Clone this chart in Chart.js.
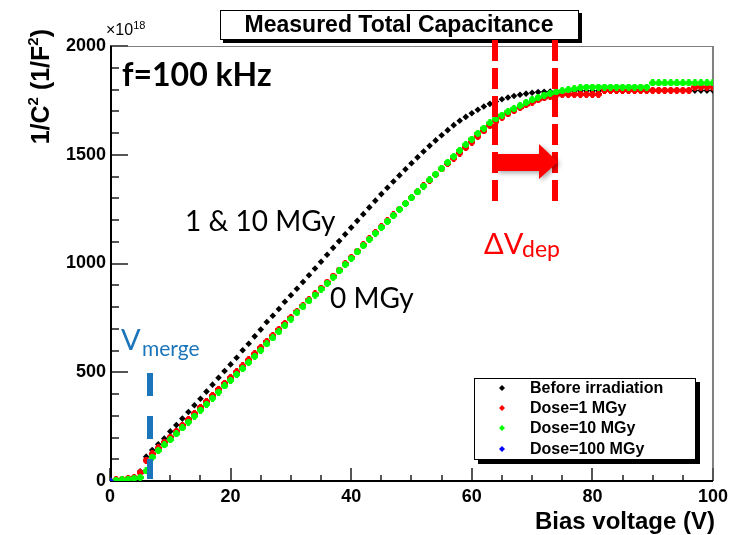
<!DOCTYPE html>
<html>
<head>
<meta charset="utf-8">
<script src="https://cdn.jsdelivr.net/npm/chart.js@4.4.1/dist/chart.umd.min.js"></script>
<style>
  html, body { margin: 0; padding: 0; background: #fff; }
  #wrap { width: 733px; height: 535px; }
</style>
</head>
<body>
<div id="wrap"><canvas id="capChart" width="733" height="535"></canvas></div>
<script>
// bias voltage (V)
const voltage = [0,1,2,3,4,5,6,7,8,9,10,11,12,13,14,15,16,17,18,19,20,21,22,23,24,25,26,27,28,29,30,
  31,32,33,34,35,36,37,38,39,40,41,42,43,44,45,46,47,48,49,50,51,52,53,54,55,56,57,58,59,60,
  61,62,63,64,65,66,67,68,69,70,71,72,73,74,75,76,77,78,79,80,81,82,83,84,85,86,87,88,89,90,
  91,92,93,94,95,96,97,98,99,100];

// 1/C^2 in units of 1e18 F^-2
const beforeIrr = [0,5,8,14,18,45,112,142,169,195,228,257,287,317,348,378,411,443,475,506,536,
  567,601,631,665,696,731,760,791,824,854,884,915,946,977,1008,1040,1072,1103,1134,1165,
  1196,1227,1258,1289,1319,1348,1377,1405,1433,1461,1488,1515,1541,1566,1590,1613,1636,1656,1674,1691,
  1707,1722,1734,1745,1755,1763,1770,1776,1781,1785,1788,1790,1791,1792,1792,1793,1793,1794,1794,1794,
  1794,1795,1795,1795,1795,1795,1795,1795,1795,1795,1795,1795,1795,1795,1795,1795,1795,1795,1795,1795];

const dose1 = [0,5,8,12,16,38,95,125,152,178,202,229,256,283,310,338,365,393,421,449,475,
  502,529,557,585,613,641,668,696,724,751,779,806,833,860,887,914,942,970,999,1028,
  1057,1086,1114,1142,1169,1196,1223,1250,1277,1303,1330,1357,1383,1409,1435,1460,1484,1508,1533,1558,
  1584,1610,1634,1654,1672,1688,1703,1717,1730,1742,1753,1762,1770,1775,1778,1778,1778,1778,1778,1778,
  1778,1796,1796,1796,1796,1796,1796,1796,1796,1796,1796,1796,1796,1796,1796,1796,1811,1811,1811,1811];

const dose10 = [0,3,6,9,12,16,46,110,140,166,190,217,244,271,298,326,353,381,409,437,463,
  490,517,545,573,601,630,658,686,714,744,774,801,828,855,882,909,937,966,995,1024,
  1053,1082,1111,1139,1166,1193,1220,1248,1275,1302,1329,1356,1384,1411,1438,1465,1492,1520,1546,1572,
  1598,1622,1646,1665,1682,1698,1712,1726,1740,1753,1764,1774,1782,1789,1794,1799,1803,1808,1811,1811,
  1811,1811,1811,1811,1811,1811,1811,1811,1811,1830,1830,1830,1830,1830,1830,1830,1830,1830,1830,1830];

const dose100V = [0];
const dose100 = [0];

const seriesNames = ['Before irradiation', 'Dose=1 MGy', 'Dose=10 MGy', 'Dose=100 MGy'];
const seriesColors = ['#000000', '#ff0000', '#00ff00', '#0000ff'];

const xTicks = [0, 20, 40, 60, 80, 100];
const yTicks = [0, 500, 1000, 1500, 2000];

function toPoints(xs, ys) {
    return xs.map(function (v, i) { return { x: v, y: ys[i] }; });
}

// ROOT-like "full cross" marker
function crossMarker(color) {
    const c = document.createElement('canvas');
    c.width = 7; c.height = 7;
    const g = c.getContext('2d');
    g.fillStyle = color;
    g.fillRect(2, 0, 3, 7);
    g.fillRect(0, 2, 7, 3);
    g.fillRect(1, 1, 5, 5);
    return c;
}

const LABEL_FONT = '"Liberation Sans", Arial, sans-serif';
const TEXT_FONT = 'Lato, "Open Sans", sans-serif';

// ticks, frame, texts and markup drawn over the chart area
const decorations = {
    id: 'decorations',
    beforeDatasetsDraw(chart) {
        const ctx = chart.ctx;
        const a = chart.chartArea;
        const xs = chart.scales.x, ys = chart.scales.y;
        ctx.save();
        // frame
        ctx.strokeStyle = '#808080';
        ctx.lineWidth = 1;
        ctx.beginPath();
        ctx.moveTo(a.left, a.top + 0.5); ctx.lineTo(a.right, a.top + 0.5);
        ctx.stroke();
        ctx.lineWidth = 2;
        ctx.beginPath();
        ctx.moveTo(a.right, a.top); ctx.lineTo(a.right, a.bottom);
        ctx.stroke();
        // tick marks pointing inward
        ctx.strokeStyle = '#555555';
        ctx.lineWidth = 2;
        for (let v = 0; v <= 100; v += 5) {
            const px = Math.round(xs.getPixelForValue(v));
            const len = v % 20 === 0 ? 13 : 6;
            ctx.beginPath();
            ctx.moveTo(px, a.bottom); ctx.lineTo(px, a.bottom - len);
            ctx.stroke();
        }
        for (let v = 0; v <= 2000; v += 100) {
            const py = Math.round(ys.getPixelForValue(v));
            const len = v % 500 === 0 ? 18 : 9;
            ctx.beginPath();
            ctx.moveTo(a.left, py); ctx.lineTo(a.left + len, py);
            ctx.stroke();
        }
        // axes
        ctx.strokeStyle = '#000000';
        ctx.lineWidth = 2;
        ctx.beginPath();
        ctx.moveTo(a.left + 1, a.top); ctx.lineTo(a.left + 1, a.bottom);
        ctx.lineTo(a.right, a.bottom);
        ctx.stroke();
        ctx.restore();
    },
    afterDatasetsDraw(chart) {
        const ctx = chart.ctx;
        ctx.save();

        // title box
        ctx.fillStyle = '#000';
        ctx.fillRect(223, 13, 359, 30);
        ctx.fillStyle = '#fff';
        ctx.fillRect(220, 10, 359, 30);
        ctx.strokeStyle = '#000';
        ctx.lineWidth = 1;
        ctx.strokeRect(220.5, 10.5, 358, 29);
        ctx.fillStyle = '#000';
        ctx.font = 'bold 23px ' + LABEL_FONT;
        ctx.textAlign = 'center';
        ctx.textBaseline = 'alphabetic';
        ctx.fillText('Measured Total Capacitance', 399, 32);

        // exponent
        ctx.textAlign = 'left';
        ctx.font = '16px ' + LABEL_FONT;
        ctx.fillText('\u00d710', 106, 35);
        const ew = ctx.measureText('\u00d710').width;
        ctx.font = '11px ' + LABEL_FONT;
        ctx.fillText('18', 106 + ew, 29);

        // axis titles
        ctx.font = 'bold 24px ' + LABEL_FONT;
        ctx.textAlign = 'right';
        ctx.fillText('Bias voltage (V)', 715, 529);

        ctx.save();
        ctx.translate(49, 0);
        ctx.rotate(-Math.PI / 2);
        const parts = [['1/C', 25, 0], ['2', 15, -11], [' (1/F', 25, 0], ['2', 15, -11], [')', 25, 0]];
        let total = 0;
        parts.forEach(function (p) { ctx.font = 'bold ' + p[1] + 'px ' + LABEL_FONT; total += ctx.measureText(p[0]).width; });
        let tx = -29 - total;
        ctx.textAlign = 'left';
        parts.forEach(function (p) {
            ctx.font = 'bold ' + p[1] + 'px ' + LABEL_FONT;
            ctx.fillText(p[0], tx, p[2]);
            tx += ctx.measureText(p[0]).width;
        });
        ctx.restore();

        // annotations
        ctx.textAlign = 'left';
        ctx.fillStyle = '#000';
        ctx.font = 'bold 32px ' + TEXT_FONT;
        ctx.fillText('f=100 kHz', 122, 86);
        ctx.font = '28px ' + TEXT_FONT;
        ctx.fillText('1 & 10 MGy', 185, 231);
        ctx.fillText('0 MGy', 330, 308);

        // V_merge
        ctx.fillStyle = '#1b75bb';
        ctx.font = '29px ' + TEXT_FONT;
        ctx.fillText('V', 121, 350);
        ctx.font = '21px ' + TEXT_FONT;
        ctx.fillText('merge', 142, 356);
        ctx.strokeStyle = '#1b75bb';
        ctx.lineWidth = 6;
        ctx.setLineDash([23, 20]);
        ctx.beginPath();
        ctx.moveTo(150, 373); ctx.lineTo(150, 479);
        ctx.stroke();

        // delta V_dep
        ctx.strokeStyle = '#ff0000';
        ctx.setLineDash([21, 7]);
        [495, 555].forEach(function (x) {
            ctx.beginPath();
            ctx.moveTo(x, 40); ctx.lineTo(x, 205);
            ctx.stroke();
        });
        ctx.setLineDash([]);
        ctx.save();
        ctx.shadowColor = 'rgba(0,0,0,0.35)';
        ctx.shadowBlur = 5;
        ctx.shadowOffsetX = 2;
        ctx.shadowOffsetY = 2;
        ctx.fillStyle = '#ff0000';
        ctx.beginPath();
        ctx.moveTo(496, 154);
        ctx.lineTo(539, 154);
        ctx.lineTo(539, 144);
        ctx.lineTo(558, 162);
        ctx.lineTo(539, 179);
        ctx.lineTo(539, 171);
        ctx.lineTo(496, 171);
        ctx.closePath();
        ctx.fill();
        ctx.restore();
        ctx.fillStyle = '#ff0000';
        ctx.font = '29px ' + TEXT_FONT;
        ctx.fillText('\u0394V', 484, 254);
        ctx.font = '23px ' + TEXT_FONT;
        ctx.fillText('dep', 522, 257);

        // legend
        const lx = 474, ly = 378, lw = 222, lh = 82;
        ctx.fillStyle = '#000';
        ctx.fillRect(lx + 4, ly + 4, lw, lh);
        ctx.fillStyle = '#fff';
        ctx.fillRect(lx, ly, lw, lh);
        ctx.strokeStyle = '#000';
        ctx.lineWidth = 1;
        ctx.strokeRect(lx + 0.5, ly + 0.5, lw - 1, lh - 1);
        ctx.font = 'bold 16px ' + LABEL_FONT;
        ctx.textBaseline = 'middle';
        const rows = [388, 408, 428, 449];
        seriesNames.forEach(function (name, i) {
            ctx.fillStyle = seriesColors[i];
            ctx.beginPath();
            ctx.moveTo(502, rows[i] - 3); ctx.lineTo(505, rows[i]);
            ctx.lineTo(502, rows[i] + 3); ctx.lineTo(499, rows[i]);
            ctx.closePath();
            ctx.fill();
            ctx.fillStyle = '#000';
            ctx.fillText(name, 530, rows[i] + 1);
        });
        ctx.restore();
    }
};

const ctx = document.getElementById('capChart').getContext('2d');
new Chart(ctx, {
    type: 'scatter',
    data: {
        datasets: [
            {
                label: seriesNames[3],
                data: toPoints(dose100V, dose100),
                backgroundColor: seriesColors[3],
                borderColor: seriesColors[3],
                pointStyle: 'rectRot',
                pointRadius: 3.5,
                order: 1
            },
            {
                label: seriesNames[2],
                data: toPoints(voltage, dose10),
                pointStyle: crossMarker(seriesColors[2]),
                order: 2
            },
            {
                label: seriesNames[1],
                data: toPoints(voltage, dose1),
                pointStyle: crossMarker(seriesColors[1]),
                order: 3
            },
            {
                label: seriesNames[0],
                data: toPoints(voltage, beforeIrr),
                backgroundColor: seriesColors[0],
                borderColor: seriesColors[0],
                borderWidth: 0,
                pointStyle: 'rectRot',
                pointRadius: 3.3,
                order: 4
            }
        ]
    },
    options: {
        responsive: false,
        animation: false,
        layout: { padding: { left: 0, right: 16, top: 46, bottom: 0 } },
        plugins: {
            legend: { display: false },
            tooltip: { enabled: false },
            title: { display: false }
        },
        scales: {
            x: {
                type: 'linear',
                min: 0,
                max: 100,
                afterFit: function (scale) { scale.height = 54; },
                afterBuildTicks: function (scale) { scale.ticks = xTicks.map(function (v) { return { value: v }; }); },
                grid: { display: false, drawTicks: false },
                border: { display: false },
                ticks: {
                    color: '#000',
                    padding: 5,
                    maxRotation: 0,
                    callback: function (v) { return String(v); },
                    font: { family: LABEL_FONT, size: 18, weight: 'bold' }
                }
            },
            y: {
                type: 'linear',
                min: 0,
                max: 2000,
                afterFit: function (scale) { scale.width = 110; },
                afterBuildTicks: function (scale) { scale.ticks = yTicks.map(function (v) { return { value: v }; }); },
                grid: { display: false, drawTicks: false },
                border: { display: false },
                ticks: {
                    color: '#000',
                    padding: 4,
                    callback: function (v) { return String(v); },
                    font: { family: LABEL_FONT, size: 18, weight: 'bold' }
                }
            }
        }
    },
    plugins: [decorations]
});
</script>
</body>
</html>
